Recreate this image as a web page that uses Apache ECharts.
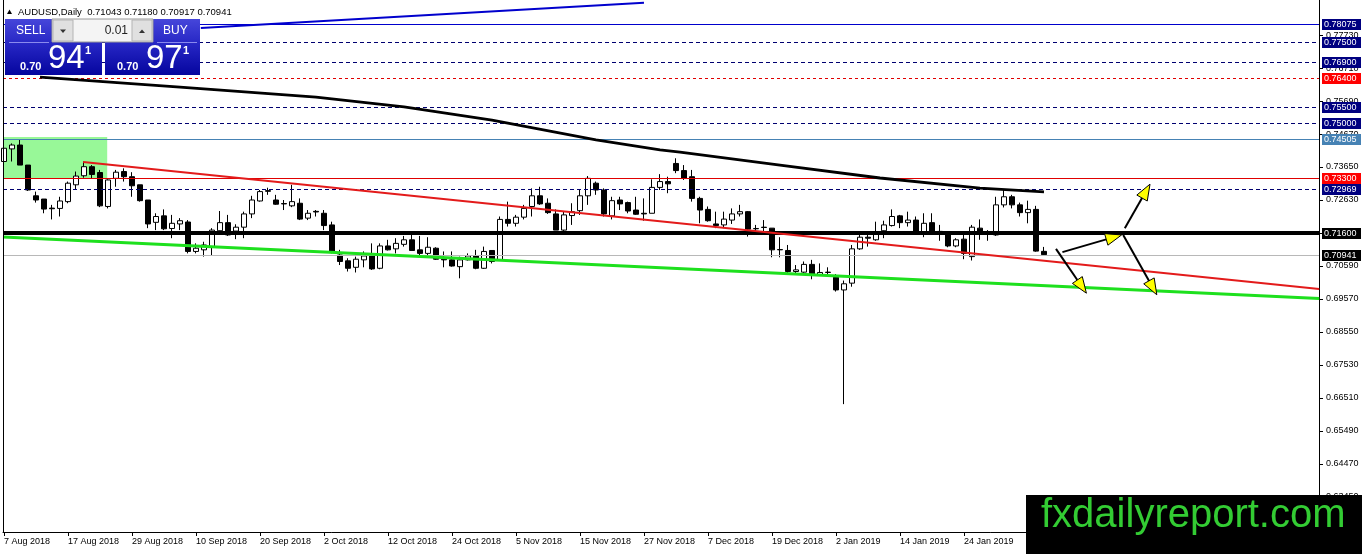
<!DOCTYPE html>
<html><head><meta charset="utf-8">
<script src="https://cdn.jsdelivr.net/npm/echarts@6/dist/echarts.min.js"></script>
<style>html,body{margin:0;padding:0;background:#fff}#c{width:1362px;height:554px}</style>
</head><body><div id="c"></div>
<script>
// ---- DATA (AUDUSD daily, bar index 0 = 7 Aug 2018) ----
const openP = [
0.7382,0.7421,0.7433,0.7371,0.7276,0.7266,0.7238,0.7237,0.7258,0.7310,
0.7338,0.7366,0.7348,0.7243,0.7330,0.7351,0.7335,0.7310,0.7263,0.7194,
0.7214,0.7175,0.7189,0.7195,0.7104,0.7109,0.7119,0.7168,0.7193,0.7167,
0.7179,0.7220,0.7260,0.7292,0.7263,0.7252,0.7245,0.7253,0.7207,0.7228,
0.7222,0.7186,0.7093,0.7075,0.7055,0.7078,0.7090,0.7052,0.7121,0.7112,
0.7126,0.7140,0.7109,0.7098,0.7114,0.7080,0.7078,0.7057,0.7078,0.7090,
0.7052,0.7107,0.7078,0.7203,0.7191,0.7210,0.7243,0.7276,0.7253,0.7220,
0.7170,0.7215,0.7230,0.7276,0.7315,0.7294,0.7214,0.7263,0.7255,0.7232,
0.7222,0.7222,0.7302,0.7320,0.7376,0.7354,0.7335,0.7268,0.7234,0.7189,
0.7186,0.7201,0.7220,0.7227,0.7175,0.7179,0.7176,0.7110,0.7107,0.7042,
0.7040,0.7064,0.7031,0.7040,0.7024,0.6985,0.7006,0.7112,0.7148,0.7140,
0.7168,0.7184,0.7214,0.7193,0.7201,0.7165,0.7193,0.7166,0.7155,0.7121,
0.7142,0.7088,0.7176,0.7159,0.7155,0.7248,0.7273,0.7248,0.7224,0.7234,
0.71043];
const highP = [
0.7438,0.7438,0.7451,0.7371,0.7289,0.7266,0.7248,0.7273,0.7320,0.7351,
0.7382,0.7371,0.7356,0.7327,0.7356,0.7361,0.7349,0.7310,0.7263,0.7222,
0.7234,0.7217,0.7207,0.7201,0.7129,0.7134,0.7176,0.7229,0.7217,0.7188,
0.7227,0.7276,0.7294,0.7301,0.7279,0.7263,0.7310,0.7268,0.7232,0.7232,
0.7232,0.7196,0.7109,0.7083,0.7088,0.7104,0.7129,0.7129,0.7140,0.7145,
0.7152,0.7160,0.7152,0.7148,0.7117,0.7104,0.7104,0.7088,0.7098,0.7109,
0.7119,0.7107,0.7212,0.7258,0.7217,0.7248,0.7299,0.7304,0.7268,0.7234,
0.7227,0.7253,0.7296,0.7337,0.7320,0.7299,0.7273,0.7273,0.7258,0.7273,
0.7268,0.7327,0.7343,0.7335,0.7392,0.7371,0.7356,0.7273,0.7243,0.7227,
0.7227,0.7237,0.7248,0.7229,0.7186,0.7201,0.7176,0.7148,0.7124,0.7062,
0.7073,0.7078,0.7067,0.7055,0.7034,0.7014,0.7124,0.7155,0.7155,0.7196,
0.7199,0.7234,0.7217,0.7227,0.7212,0.7222,0.7222,0.7186,0.7165,0.7145,
0.7155,0.7186,0.7203,0.7170,0.7273,0.7296,0.7279,0.7255,0.7261,0.7245,
0.71180];
const lowP = [
0.7376,0.7382,0.7371,0.7291,0.7255,0.7222,0.7203,0.7212,0.7253,0.7296,
0.7332,0.7330,0.7241,0.7237,0.7304,0.7320,0.7273,0.7258,0.7176,0.7170,
0.7170,0.7145,0.7170,0.7098,0.7098,0.7088,0.7093,0.7155,0.7152,0.7142,
0.7145,0.7207,0.7258,0.7279,0.7248,0.7232,0.7241,0.7201,0.7201,0.7212,
0.7170,0.7098,0.7062,0.7042,0.7039,0.7055,0.7047,0.7049,0.7107,0.7098,
0.7119,0.7107,0.7093,0.7086,0.7078,0.7055,0.7057,0.7021,0.7076,0.7049,
0.7050,0.7067,0.7078,0.7181,0.7181,0.7203,0.7212,0.7248,0.7220,0.7170,
0.7165,0.7186,0.7217,0.7248,0.7279,0.7212,0.7203,0.7232,0.7222,0.7217,
0.7199,0.7222,0.7294,0.7284,0.7346,0.7325,0.7258,0.7191,0.7196,0.7176,
0.7176,0.7189,0.7212,0.7150,0.7165,0.7165,0.7086,0.7086,0.7037,0.7037,
0.7034,0.7018,0.7028,0.7026,0.6980,0.6632,0.6995,0.7109,0.7119,0.7137,
0.7145,0.7181,0.7176,0.7181,0.7162,0.7148,0.7160,0.7137,0.7117,0.7117,
0.7080,0.7076,0.7140,0.7137,0.7152,0.7240,0.7237,0.7212,0.7191,0.7103,
0.70917];
const closeP = [
0.7423,0.7433,0.7371,0.7294,0.7263,0.7235,0.7236,0.7260,0.7315,0.7337,
0.7366,0.7342,0.7245,0.7325,0.7349,0.7335,0.7307,0.7261,0.7189,0.7212,
0.7174,0.7191,0.7199,0.7104,0.7114,0.7124,0.7170,0.7193,0.7155,0.7179,
0.7220,0.7263,0.7289,0.7290,0.7250,0.7251,0.7258,0.7204,0.7222,0.7226,
0.7184,0.7104,0.7073,0.7052,0.7080,0.7090,0.7050,0.7121,0.7109,0.7129,
0.7140,0.7107,0.7098,0.7117,0.7080,0.7078,0.7059,0.7078,0.7090,0.7052,
0.7104,0.7073,0.7203,0.7191,0.7210,0.7237,0.7276,0.7251,0.7224,0.7170,
0.7217,0.7227,0.7276,0.7330,0.7294,0.7220,0.7261,0.7251,0.7229,0.7219,
0.7220,0.7302,0.7320,0.7313,0.7354,0.7330,0.7268,0.7232,0.7199,0.7184,
0.7204,0.7220,0.7227,0.7173,0.7174,0.7178,0.7109,0.7109,0.7042,0.7047,
0.7064,0.7034,0.7039,0.7039,0.6985,0.7004,0.7112,0.7148,0.7145,0.7160,
0.7186,0.7212,0.7193,0.7201,0.7165,0.7191,0.7165,0.7165,0.7121,0.7140,
0.7098,0.7179,0.7158,0.7158,0.7248,0.7273,0.7248,0.7224,0.7234,0.7105,
0.70941];

const xTickIndex = [0,8,16,24,32,40,48,56,64,72,80,88,96,104,112,120];
const xTickLabels = ['7 Aug 2018','17 Aug 2018','29 Aug 2018','10 Sep 2018','20 Sep 2018','2 Oct 2018','12 Oct 2018','24 Oct 2018','5 Nov 2018','15 Nov 2018','27 Nov 2018','7 Dec 2018','19 Dec 2018','2 Jan 2019','14 Jan 2019','24 Jan 2019'];
const yTickValues = [0.6345,0.6447,0.6549,0.6651,0.6753,0.6855,0.6957,0.7059,0.7161,0.7263,0.7365,0.7467,0.7569,0.7671,0.7773];

// moving average line
const maIndex = [4.5,22,39,50,61,74,82,84.5,97,109.5,122,130];
const maValue = [0.7643,0.7612,0.7581,0.7551,0.7510,0.7449,0.7418,0.7411,0.7371,0.7331,0.7300,0.7288];

// horizontal levels
const levelValues = [0.78075,0.77500,0.76900,0.76400,0.75500,0.75000,0.74505,0.73300,0.72969,0.71600,0.70941];
const levelKinds  = ['blue','navy','navy','redDash','navy','navy','steel','red','navy','black','bid'];

// trend lines [barIndex, price]
const redTrend   = [[9.9,0.73805],[164.4,0.69879]];
const greenTrend = [[-0.125,0.71487],[164.4,0.69585]];
const blueTrend  = [[24.6,0.77947],[80,0.78730]];
// shaded zone [x0, priceTop, x1, priceBottom]
const greenZone = [[-0.125,0.7458,12.9,0.7331]];
// arrows [x1, p1, x2(tip), p2(tip)]
const arrows = [
  [131.5,0.7112,135.3,0.6975],
  [132.3,0.7102,139.7,0.7155],
  [140.1,0.7176,143.25,0.7312],
  [139.9,0.7155,144.1,0.6970]
];
const symbolName = 'AUDUSD,Daily';
const bidPrice = 0.70941, askPrice = 0.70971, lotSize = '0.01';

// ---- CHART ----
const FONT = '"Liberation Sans", Arial, sans-serif';
const Y_MAX = 0.788127, Y_MIN = 0.623676, X_MIN = -0.125, X_MAX = 164.375;

const styleFor = {
  blue:   {color:'#0000cd',width:1,dash:null, bg:'#000080'},
  navy:   {color:'#000070',width:1,dash:[4,3], bg:'#000080'},
  redDash:{color:'#e00000',width:1,dash:[3,3], bg:'#ff0000'},
  steel:  {color:'#4682b4',width:1,dash:null, bg:'#4682b4'},
  red:    {color:'#e00000',width:1,dash:null, bg:'#ff0000'},
  black:  {color:'#000000',width:4,dash:null, bg:'#000000'},
  bid:    {color:'#b8b8b8',width:1,dash:null, bg:'#000000'}
};

const candleData = openP.map((o,i)=>[i,o,closeP[i],lowP[i],highP[i]]);
const maData = maIndex.map((x,k)=>[x,maValue[k]]);
const levelData = levelValues.map((v,k)=>[k,v]);
const yTickData = yTickValues.map(v=>[X_MAX,v]);

function fmt(v){return v.toFixed(5);}
const last = openP.length-1;
const titleText = symbolName + '  ' + [openP[last],highP[last],lowP[last],closeP[last]].map(fmt).join(' ');
function priceParts(p){const s=fmt(p);return [s.slice(0,4), s.slice(4,6), s.slice(6)];}
const bidP = priceParts(bidPrice), askP = priceParts(askPrice);

const blueGrad = new echarts.graphic.LinearGradient(0,0,0,1,[{offset:0,color:'#4646da'},{offset:0.45,color:'#2626c4'},{offset:1,color:'#05059e'}]);
function txt(x,y,t,size,color,weight,align,family){
  return {type:'text', z:101, silent:true, style:{x:x,y:y,text:t,fill:color,
    font:(weight||'normal')+' '+size+'px '+(family||FONT), align:align||'left', textAlign:align||'left',
    verticalAlign:'middle', textVerticalAlign:'middle'}};
}
const graphics = [
  {type:'line', z:50, silent:true, shape:{x1:3.5,y1:0,x2:3.5,y2:532}, style:{stroke:'#000',lineWidth:1}},
  {type:'polygon', z:101, silent:true, shape:{points:[[7,14],[12,14],[9.5,9.5]]}, style:{fill:'#000'}},
  txt(18,12,titleText,9.5,'#000'),
  {type:'rect', z:100, silent:true, shape:{x:5,y:19,width:97,height:56}, style:{fill:blueGrad}},
  {type:'rect', z:100, silent:true, shape:{x:105,y:19,width:95,height:56}, style:{fill:blueGrad}},
  {type:'line', z:101, silent:true, shape:{x1:9,y1:42.5,x2:49,y2:42.5}, style:{stroke:'#8a8aee',lineWidth:1}},
  {type:'line', z:101, silent:true, shape:{x1:157,y1:42.5,x2:197,y2:42.5}, style:{stroke:'#8a8aee',lineWidth:1}},
  {type:'rect', z:101, silent:true, shape:{x:52,y:19,width:101,height:23}, style:{fill:'#f4f4f4',stroke:'#9a9a9a',lineWidth:1}},
  {type:'rect', z:102, silent:true, shape:{x:53,y:20,width:20,height:21}, style:{fill:'#e0e0e0',stroke:'#b4b4b4',lineWidth:1}},
  {type:'rect', z:102, silent:true, shape:{x:132,y:20,width:20,height:21}, style:{fill:'#e0e0e0',stroke:'#b4b4b4',lineWidth:1}},
  {type:'polygon', z:103, silent:true, shape:{points:[[60,29.5],[66,29.5],[63,33]]}, style:{fill:'#333'}},
  {type:'polygon', z:103, silent:true, shape:{points:[[139,33],[145,33],[142,29.5]]}, style:{fill:'#333'}},
  txt(128,31,lotSize,12,'#222','normal','right'),
  txt(16,31,'SELL',12,'#fff'),
  txt(163,31,'BUY',12,'#fff'),
  txt(20,67,bidP[0],11,'#fff','bold'),
  txt(48,59,bidP[1],33,'#fff','normal','left','"Liberation Sans Narrow", "Liberation Sans", Arial, sans-serif'),
  txt(85,51,bidP[2],11,'#fff','bold'),
  txt(117,67,askP[0],11,'#fff','bold'),
  txt(146,59,askP[1],33,'#fff','normal','left','"Liberation Sans Narrow", "Liberation Sans", Arial, sans-serif'),
  txt(183,51,askP[2],11,'#fff','bold'),
  {type:'rect', z:100, silent:true, shape:{x:1026,y:495,width:336,height:59}, style:{fill:'#000'}},
  txt(1041,516,'fxdailyreport.com',40,'#33cc33')
];

const chart = echarts.init(document.getElementById('c'), null, {renderer:'canvas'});
chart.setOption({
  animation:false,
  backgroundColor:'#ffffff',
  grid:{left:3,right:43,top:0,bottom:22,containLabel:false},
  xAxis:{type:'value', min:X_MIN, max:X_MAX,
    axisLine:{show:true,onZero:false,lineStyle:{color:'#000',width:1}},
    axisTick:{show:true,length:4,inside:false,customValues:xTickIndex,lineStyle:{color:'#000'}},
    axisLabel:{show:true,customValues:xTickIndex,align:'left',margin:5,fontSize:9,fontFamily:FONT,color:'#000',
      formatter:v=>{const k=xTickIndex.indexOf(Math.round(v));return k>=0?xTickLabels[k]:'';}},
    splitLine:{show:false}, minorTick:{show:false}, minorSplitLine:{show:false}},
  yAxis:{type:'value', position:'right', min:Y_MIN, max:Y_MAX,
      axisLine:{show:true,onZero:false,lineStyle:{color:'#000',width:1}},
      axisTick:{show:false},
      axisLabel:{show:true,customValues:yTickValues,margin:7,fontSize:9,fontFamily:FONT,color:'#000',
        formatter:v=>v.toFixed(5)},
      splitLine:{show:false}, minorTick:{show:false}, minorSplitLine:{show:false}},
  series:[
    {type:'custom', z:1, silent:true, data:greenZone, encode:{x:[0,2],y:[1,3]},
      renderItem:(p,api)=>{const a=api.coord([api.value(0),api.value(1)]),b=api.coord([api.value(2),api.value(3)]);
        return {type:'rect',shape:{x:Math.min(a[0],b[0]),y:Math.min(a[1],b[1]),width:Math.abs(b[0]-a[0]),height:Math.abs(b[1]-a[1])},style:{fill:'#98f898'}};}},
    {type:'candlestick', z:3, silent:true, data:candleData, barWidth:5,
      itemStyle:{color:'#ffffff',color0:'#000000',borderColor:'#000000',borderColor0:'#000000',borderWidth:1}},
    {type:'custom', z:2, silent:true, clip:false, data:yTickData, encode:{x:0,y:1},
      renderItem:(p,api)=>{const a=api.coord([api.value(0),api.value(1)]);const y=Math.round(a[1])+0.5;
        return {type:'line',shape:{x1:a[0],y1:y,x2:a[0]+4,y2:y},style:{stroke:'#000',lineWidth:1}};}},
    {type:'custom', z:4, silent:true, clip:false, data:levelData, encode:{x:0,y:1},
      renderItem:(p,api)=>{
        const k=api.value(0), v=api.value(1), s=styleFor[levelKinds[k]];
        const a=api.coord([X_MIN,v]), b=api.coord([X_MAX,v]);
        const y=Math.round(a[1])+(s.width%2?0.5:0);
        return {type:'group',children:[
          {type:'line',shape:{x1:a[0],y1:y,x2:b[0],y2:y},style:{stroke:s.color,lineWidth:s.width,lineDash:s.dash}},
          {type:'rect',shape:{x:b[0]+3,y:Math.round(a[1])-5,width:39,height:11},style:{fill:s.bg}},
          {type:'text',style:{x:b[0]+5,y:Math.round(a[1])+0.5,text:fmt(v),fill:'#fff',font:'9px '+FONT,
            verticalAlign:'middle',textVerticalAlign:'middle',align:'left',textAlign:'left'}}
        ]};
      }},
    {type:'line', z:5, silent:true, data:maData, symbol:'none', lineStyle:{color:'#000',width:2.8}},
    {type:'line', z:5, silent:true, data:redTrend, symbol:'none', lineStyle:{color:'#e31b1b',width:2.2}},
    {type:'line', z:5, silent:true, data:greenTrend, symbol:'none', lineStyle:{color:'#1ee01e',width:3.2}},
    {type:'line', z:5, silent:true, data:blueTrend, symbol:'none', lineStyle:{color:'#0000cd',width:2}},
    {type:'custom', z:6, silent:true, data:arrows, encode:{x:[0,2],y:[1,3]},
      renderItem:(p,api)=>{
        const a=api.coord([api.value(0),api.value(1)]), b=api.coord([api.value(2),api.value(3)]);
        const dx=b[0]-a[0], dy=b[1]-a[1], L=Math.hypot(dx,dy), ux=dx/L, uy=dy/L, hl=16, hw=6;
        const bx=b[0]-ux*hl, by=b[1]-uy*hl;
        return {type:'group',children:[
          {type:'line',shape:{x1:a[0],y1:a[1],x2:bx,y2:by},style:{stroke:'#000',lineWidth:2}},
          {type:'polygon',shape:{points:[[b[0],b[1]],[bx-uy*hw,by+ux*hw],[bx+uy*hw,by-ux*hw]]},style:{fill:'#ffff00',stroke:'#000',lineWidth:1}}
        ]};
      }}
  ],
  graphic:graphics
});
</script></body></html>
